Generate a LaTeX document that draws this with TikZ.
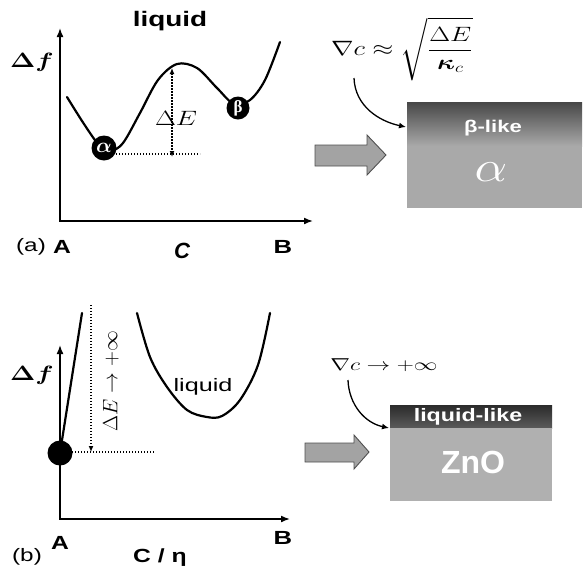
\documentclass[tikz,border=0pt]{standalone}
\usepackage{amsmath}
\usepackage{bm}
\usepackage{fontspec}
\setmainfont{Liberation Serif}
\setsansfont{Liberation Sans}
\usepackage{graphicx}
\usetikzlibrary{arrows.meta}
\newcommand\hx[2]{\scalebox{#1}[1]{#2}}
\newcommand\fs[1]{\fontsize{#1}{#1}\selectfont}
\definecolor{boxgray}{HTML}{A9A9A9}
\definecolor{boxdark}{HTML}{474747}
\definecolor{boxgrayb}{HTML}{B0B0B0}
\definecolor{banddark}{HTML}{2B2B2B}
\definecolor{bandlow}{HTML}{5A5A5A}
\definecolor{arrfill}{HTML}{A3A3A3}
\definecolor{arrdraw}{HTML}{505050}
\begin{document}
\begin{tikzpicture}[x=1pt,y=-1pt,
  axis/.style={line width=1.6pt,{Latex[length=9pt,width=7pt]}-{Latex[length=9pt,width=7pt]}},
  curve/.style={line width=2.2pt,line cap=round},
  dots/.style={line width=1.3pt,dash pattern=on 1.3pt off 1.7pt},
  lbl/.style={inner sep=0pt,font=\sffamily},
  bent/.style={line width=1.3pt,-{Latex[length=7pt,width=6pt]}},
  blockarrow/.style={fill=arrfill,draw=arrdraw,line width=0.9pt,line join=miter},
  ball/.style={circle,fill=black,inner sep=0pt,text=white}]
\useasboundingbox (0,0) rectangle (584,566);

% ---------------- panel (a) ----------------
\coordinate (ya) at (60,28);
\coordinate (xa) at (313,221);
\draw[axis] (ya) |- (xa);
\node[lbl] (liqA) at (170,21) {\fs{21}\bfseries\hx{1.33}{liquid}};
\node[inner sep=0pt] (dfA) at (32,62) {\fs{21}\hx{1.3}{$\bm{\Delta f}$}};
\node[lbl] (labA) at (31,247) {\fs{18}\hx{1.35}{(a)}};
\node[lbl] (Aa) at (62,247) {\fs{19}\bfseries\hx{1.3}{A}};
\node[lbl] (Ca) at (182,251) {\fs{22}\bfseries\itshape C};
\node[lbl] (Ba) at (283,247) {\fs{19}\bfseries\hx{1.35}{B}};

\draw[curve] plot[smooth,tension=0.55] coordinates {(67,97) (84,124) (99,145) (110,151) (123,143) (140,113) (158,80) (177,64) (197,68) (217,88) (234,104) (250,100) (265,80) (280,42)};
\node[ball,minimum size=25pt] (alpha) at (104,148) {\fs{20}$\bm{\alpha}$};
\node[ball,minimum size=23pt] (beta) at (238,108) {\fs{17}\bfseries β};

\coordinate (peakA) at (172,68);
\coordinate (baseA) at (172,157);
\coordinate (hsA) at (116,154);
\coordinate (heA) at (200,154);
\draw[dots,{Latex[length=6pt,width=5pt]}-{Latex[length=6pt,width=5pt]}] (peakA) -- (baseA);
\draw[dots] (hsA) -- (heA);
\node[inner sep=0pt] (dEa) at (176,118) {\fs{21}\hx{1.3}{$\Delta E$}};

\node[inner sep=0pt] (fa) at (402,49) {\fs{22}\hx{1.3}{$\nabla c \approx \sqrt{\dfrac{\rule{0pt}{0.75em}\Delta E}{\bm{\kappa}_c\rule[-0.3em]{0pt}{0pt}}}$}};
\coordinate (fat) at (354,78);
\coordinate (boxAw) at (406,127);
\shade[top color=boxdark,bottom color=boxgray] (407,102) rectangle (582,146);
\fill[boxgray] (407,146) rectangle (582,208);
\draw[bent] (fat) to[out=-88,in=168] (boxAw);
\node[lbl,text=white] (blike) at (493,128) {\fs{17}\bfseries\hx{1.3}{β-like}};
\node[inner sep=0pt,text=white] (alphaBox) at (491,172) {\fs{20}\scalebox{2.5}[2.1]{$\alpha$}};
\draw[blockarrow] (315,145) -- (367,145) -- (367,135) -- (386,155) -- (367,175) -- (367,166) -- (315,166) -- cycle;

% ---------------- panel (b) ----------------
\coordinate (yb) at (60,345);
\coordinate (xb) at (290,519);
\draw[axis] (yb) |- (xb);
\node[inner sep=0pt] (dfB) at (32,375) {\fs{21}\hx{1.3}{$\bm{\Delta f}$}};
\node[lbl] (labB) at (27,557) {\fs{18}\hx{1.35}{(b)}};
\node[lbl] (Ab) at (60,543) {\fs{19}\bfseries\hx{1.3}{A}};
\node[lbl] (Cb) at (160,558) {\fs{19}\bfseries\hx{1.3}{C / η}};
\node[lbl] (Bb) at (283,538) {\fs{19}\bfseries\hx{1.35}{B}};

\node[ball,minimum size=25pt] (dotB) at (60,453) {};
\coordinate (topB) at (82,313);
\draw[curve] (dotB.center) -- (topB);
\coordinate (dtB) at (91,305);
\coordinate (dbB) at (91,452);
\coordinate (hsB) at (72,452);
\coordinate (heB) at (155,452);
\draw[dots,-{Latex[length=6pt,width=5pt]}] (dtB) -- (dbB);
\draw[dots] (hsB) -- (heB);
\node[inner sep=0pt,rotate=90] (dEb) at (111,381) {\fs{21}$\Delta E \rightarrow +\infty$};

\draw[curve] plot[smooth,tension=0.55] coordinates {(137,313) (150,357) (167,387) (187,410) (207,417) (222,416) (240,400) (258,365) (270,313)};
\node[lbl] (liqB) at (203,387) {\fs{18}\hx{1.4}{liquid}};

\node[inner sep=0pt] (fb) at (384,365) {\fs{18}\hx{1.37}{$\nabla c \rightarrow +\infty$}};
\coordinate (fbt) at (348,380);
\coordinate (boxBw) at (389,428);
\shade[top color=banddark,bottom color=bandlow] (390,405) rectangle (552,428);
\fill[boxgrayb] (390,428) rectangle (552,501);
\draw[bent] (fbt) to[out=-88,in=168] (boxBw);
\node[lbl,text=white] (llike) at (468,417) {\fs{18}\bfseries\hx{1.29}{liquid-like}};
\node[lbl,text=white] (zno) at (473,462) {\fs{32}\bfseries ZnO};
\draw[blockarrow] (305,443) -- (354,443) -- (354,435) -- (369,452) -- (354,469) -- (354,462) -- (305,462) -- cycle;
\end{tikzpicture}
\end{document}
